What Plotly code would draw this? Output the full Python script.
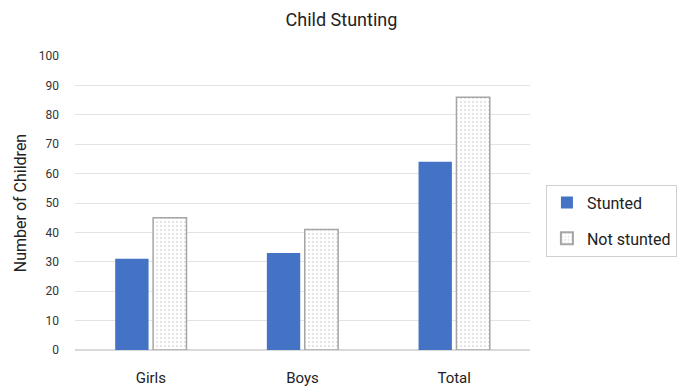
import plotly.graph_objects as go

categories = ["Girls", "Boys", "Total"]
stunted = [31, 33, 64]
not_stunted = [45, 41, 86]
y_ticks = [0, 10, 20, 30, 40, 50, 60, 70, 80, 90, 100]

font_family = "Roboto, 'Open Sans', sans-serif"

fig = go.Figure()
fig.add_trace(go.Bar(
    name="Stunted", x=categories, y=stunted, legendgroup="a",
    marker=dict(color="#4472C4", line=dict(width=0)),
))
fig.add_trace(go.Bar(
    name="Not stunted", x=categories, y=not_stunted, legendgroup="b",
    marker=dict(
        color="white",
        line=dict(color="#A6A6A6", width=1.5),
        pattern=dict(shape=".", fgcolor="#B8B8B8", bgcolor="white", size=4, solidity=0.2),
    ),
))

fig.update_layout(
    width=683, height=387,
    margin=dict(l=75, r=153, t=56, b=37, autoexpand=False),
    paper_bgcolor="white", plot_bgcolor="white",
    barmode="group", bargap=0.5, bargroupgap=0.12,
    font=dict(family=font_family, color="#404040"),
    title=dict(text="Child Stunting", x=0.5, xanchor="center", y=0.95, yanchor="middle",
               font=dict(size=18, color="#222222")),
    xaxis=dict(tickfont=dict(size=15, color="#222222"), showline=False, automargin=False,
               ticks="", showgrid=False, ticklabelstandoff=17),
    yaxis=dict(range=[0, 100], tickvals=y_ticks, tickfont=dict(size=12, color="#333333"),
               showgrid=True, gridcolor="#E3E3E3", zeroline=True, zerolinecolor="#D9D9D9",
               ticks="", ticklabelstandoff=15, automargin=False,
               title=dict(text="Number of Children", font=dict(size=16, color="#222222"), standoff=8)),
    legend=dict(x=1.035, xanchor="left", y=0.44, yanchor="middle",
                bordercolor="#D0D0D0", borderwidth=1, bgcolor="white",
                tracegroupgap=12, itemwidth=30,
                font=dict(size=16, color="#222222"), itemsizing="constant"),
)

fig.write_html("out.html")
